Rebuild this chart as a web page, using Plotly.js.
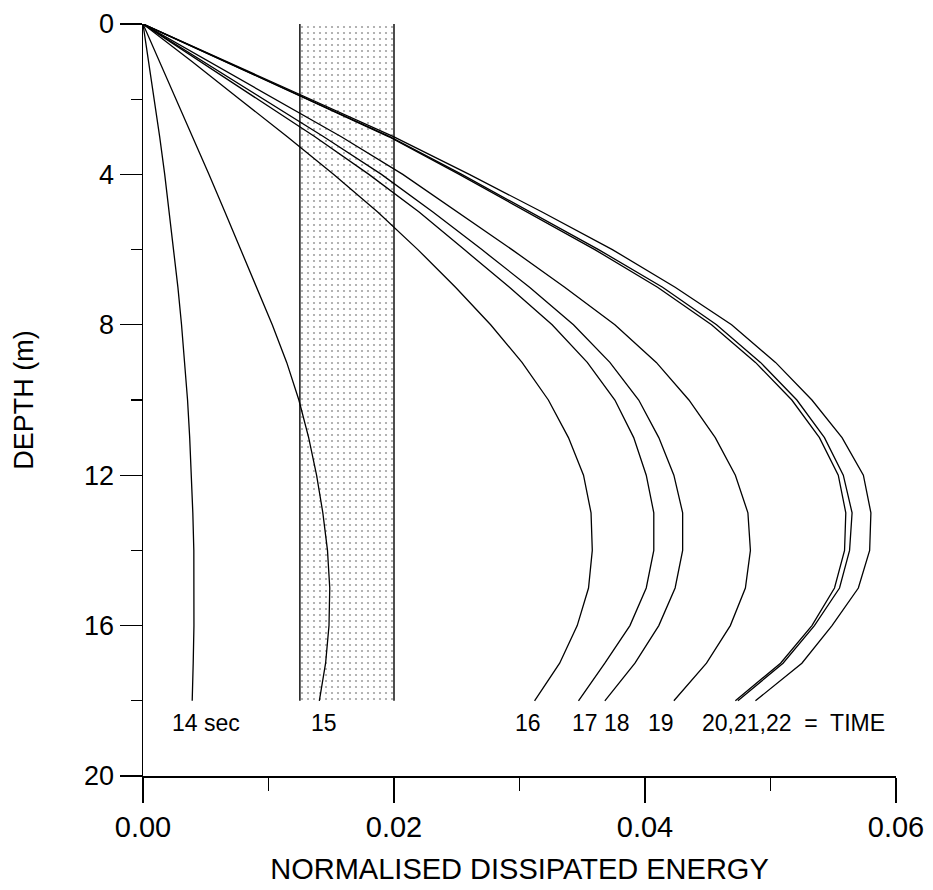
<!DOCTYPE html>
<html>
<head>
<meta charset="utf-8">
<script src="https://cdn.plot.ly/plotly-3.0.1.min.js"></script>
<style>html,body{margin:0;padding:0;background:#fff;}#chart{width:933px;height:890px;}</style>
</head>
<body>
<div id="chart"></div>
<script>
// Depth nodes (m)
const depth = [0,1,2,3,4,5,6,7,8,9,10,11,12,13,14,15,16,17,18];

// Normalised dissipated energy profiles, one per time (s)
const t14 = [0,0.00045,0.0009,0.00133,0.00173,0.0021,0.00245,0.00278,0.00307,0.00333,0.00355,0.00372,0.00386,0.00397,0.00405,0.00408,0.00406,0.00400,0.00392];
const t15 = [0,0.00133,0.00266,0.00397,0.00526,0.00653,0.00778,0.00900,0.01030,0.01145,0.01242,0.01320,0.01383,0.01433,0.01470,0.01488,0.01482,0.01455,0.01405];
const t16 = [0,0.0039,0.0077,0.0115,0.0152,0.0187,0.0219,0.0249,0.0277,0.0302,0.0323,0.0339,0.0351,0.0357,0.0358,0.0355,0.0346,0.0332,0.0312];
const t17 = [0,0.0046,0.0092,0.0137,0.0180,0.0220,0.0256,0.0292,0.0326,0.0354,0.0376,0.0391,0.0401,0.0407,0.0407,0.0401,0.0388,0.0368,0.0347];
const t18 = [0,0.0048,0.0096,0.0144,0.0190,0.0231,0.0270,0.0308,0.0343,0.0372,0.0395,0.0411,0.0423,0.0430,0.0430,0.0424,0.0411,0.0392,0.0368];
const t19 = [0,0.0053,0.0106,0.0158,0.0207,0.0251,0.0294,0.0336,0.0376,0.0409,0.0435,0.0456,0.0472,0.0482,0.0484,0.0480,0.0468,0.0449,0.0423];
const t20 = [0,0.0065,0.0130,0.0196,0.0252,0.0306,0.0360,0.0410,0.0453,0.0488,0.0517,0.0539,0.0554,0.0560,0.0559,0.0551,0.0533,0.0508,0.0472];
const t21 = [0,0.0066,0.0131,0.0197,0.0254,0.0309,0.0363,0.0414,0.0457,0.0492,0.0521,0.0543,0.0558,0.0565,0.0563,0.0555,0.0535,0.0510,0.0474];
const t22 = [0,0.0067,0.0133,0.0200,0.0260,0.0318,0.0374,0.0424,0.0469,0.0504,0.0533,0.0557,0.0574,0.0580,0.0579,0.0570,0.0549,0.0525,0.0488];

// Shaded band (energy limits) and its depth extent
const bandX = [0.0125, 0.02];
const bandDepth = [0, 18];

// Curve labels
const labelText = ["14 sec", "15", "16", "17 18", "19", "20,21,22  =  TIME"];
const labelX = [0.0050, 0.0144, 0.0307, 0.0365, 0.0413, 0.0518];
const labelDepth = 18.6;

const xTicks = [0, 0.02, 0.04, 0.06];
const xTickText = ["0.00", "0.02", "0.04", "0.06"];
const yTicks = [0, 4, 8, 12, 16, 20];

const series = [t14, t15, t16, t17, t18, t19, t20, t21, t22];
const FONT = "Liberation Sans, Arial, sans-serif";

const traces = [];
// band fill (stippled)
traces.push({
  x: [bandX[0], bandX[1], bandX[1], bandX[0], bandX[0]],
  y: [bandDepth[0], bandDepth[0], bandDepth[1], bandDepth[1], bandDepth[0]],
  mode: 'lines', fill: 'toself', line: {width: 0, color: 'rgba(0,0,0,0)'},
  fillcolor: '#ffffff',
  fillpattern: {shape: '.', fgcolor: '#a0a0a0', bgcolor: '#ffffff', size: 6, solidity: 0.1},
  hoverinfo: 'skip', showlegend: false
});
// band edges
bandX.forEach(bx => traces.push({
  x: [bx, bx], y: bandDepth, mode: 'lines',
  line: {color: '#000', width: 1.4}, hoverinfo: 'skip', showlegend: false
}));
series.forEach(s => traces.push({
  x: s, y: depth, mode: 'lines',
  line: {color: '#000', width: 1.3}, showlegend: false
}));

const annotations = labelText.map((t, i) => ({
  x: labelX[i], y: labelDepth, xref: 'x', yref: 'y', text: t,
  showarrow: false, font: {family: FONT, size: 23, color: '#000'},
  xanchor: 'center', yanchor: 'middle'
}));

const layout = {
  width: 933, height: 890,
  margin: {l: 143, r: 37, t: 24, b: 114},
  paper_bgcolor: '#fff', plot_bgcolor: '#fff',
  font: {family: FONT, color: '#000'},
  xaxis: {
    range: [0, 0.06], tickvals: xTicks, ticktext: xTickText,
    ticks: 'outside', ticklen: 25, tickwidth: 1.3, tickcolor: '#000',
    showline: true, linecolor: '#000', linewidth: 1.5,
    showgrid: false, zeroline: false,
    tickfont: {family: FONT, size: 29, color: '#000'},
    minor: {dtick: 0.01, ticks: 'outside', ticklen: 13, tickwidth: 1.3, tickcolor: '#000', showgrid: false},
    title: {text: 'NORMALISED DISSIPATED ENERGY', font: {family: FONT, size: 29, color: '#000'}, standoff: 16}
  },
  yaxis: {
    range: [20, 0], tickvals: yTicks,
    ticks: 'outside', ticklen: 22, tickwidth: 1.3, tickcolor: '#000',
    showline: true, linecolor: '#000', linewidth: 1.5,
    showgrid: false, zeroline: false,
    tickfont: {family: FONT, size: 27, color: '#000'},
    minor: {dtick: 2, ticks: 'outside', ticklen: 11, tickwidth: 1.3, tickcolor: '#000', showgrid: false},
    title: {text: 'DEPTH (m)', font: {family: FONT, size: 27, color: '#000'}, standoff: 42}
  },
  annotations: annotations
};

Plotly.newPlot('chart', traces, layout, {displayModeBar: false, staticPlot: true});
</script>
</body>
</html>
